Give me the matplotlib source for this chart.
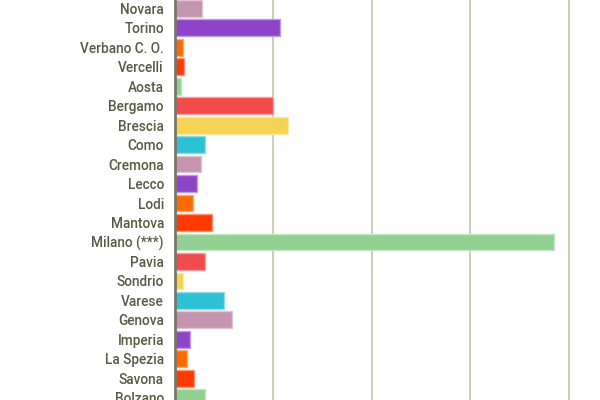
import matplotlib
matplotlib.use("Agg")
import matplotlib.pyplot as plt
from matplotlib.colors import to_rgb

provinces = ["Novara", "Torino", "Verbano C. O.", "Vercelli", "Aosta", "Bergamo",
             "Brescia", "Como", "Cremona", "Lecco", "Lodi", "Mantova", "Milano (***)",
             "Pavia", "Sondrio", "Varese", "Genova", "Imperia", "La Spezia", "Savona",
             "Bolzano"]
values = [27, 107, 8, 9.5, 6, 100, 115, 31, 26.5, 22.5, 18, 38, 385, 31, 8.5, 50,
          58, 15.5, 12.5, 19, 30]
palette = ["#c495ae", "#8e44c9", "#ff6a00", "#ff3a00", "#91d091", "#f24b4b",
           "#f5d354", "#2ec1d5"]
grid_ticks = [0, 100, 200, 300, 400]

colors = [palette[i % len(palette)] for i in range(len(provinces))]
edges = [tuple(0.55 * c + 0.45 for c in to_rgb(col)) for col in colors]

plt.rcParams['font.family'] = ['Roboto', 'DejaVu Sans']
fig = plt.figure(figsize=(6, 4), dpi=100)
ax = fig.add_axes([175 / 600, 0, 1 - 175 / 600, 1])

y = list(range(len(provinces)))
ax.barh(y, values, height=0.86, color=colors, edgecolor=edges, linewidth=1.0, zorder=3)

ax.set_xlim(0, 432)
ax.set_ylim(20.12, -0.43)
ax.set_xticks(grid_ticks)
ax.set_xticklabels([])
ax.tick_params(axis='x', length=0)
ax.grid(axis='x', color='#c9c2a8', linewidth=1.2, zorder=0)
ax.set_yticks(y)
ax.set_yticklabels(provinces, fontsize=9.8, fontweight='medium', color='#5a5944')
ax.tick_params(axis='y', length=0, pad=8)
for s in ['top', 'right', 'bottom']:
    ax.spines[s].set_visible(False)
ax.spines['left'].set_color('#7b766a')
ax.spines['left'].set_linewidth(2)
ax.spines['left'].set_zorder(4)

fig.savefig("out.png", dpi=100)
